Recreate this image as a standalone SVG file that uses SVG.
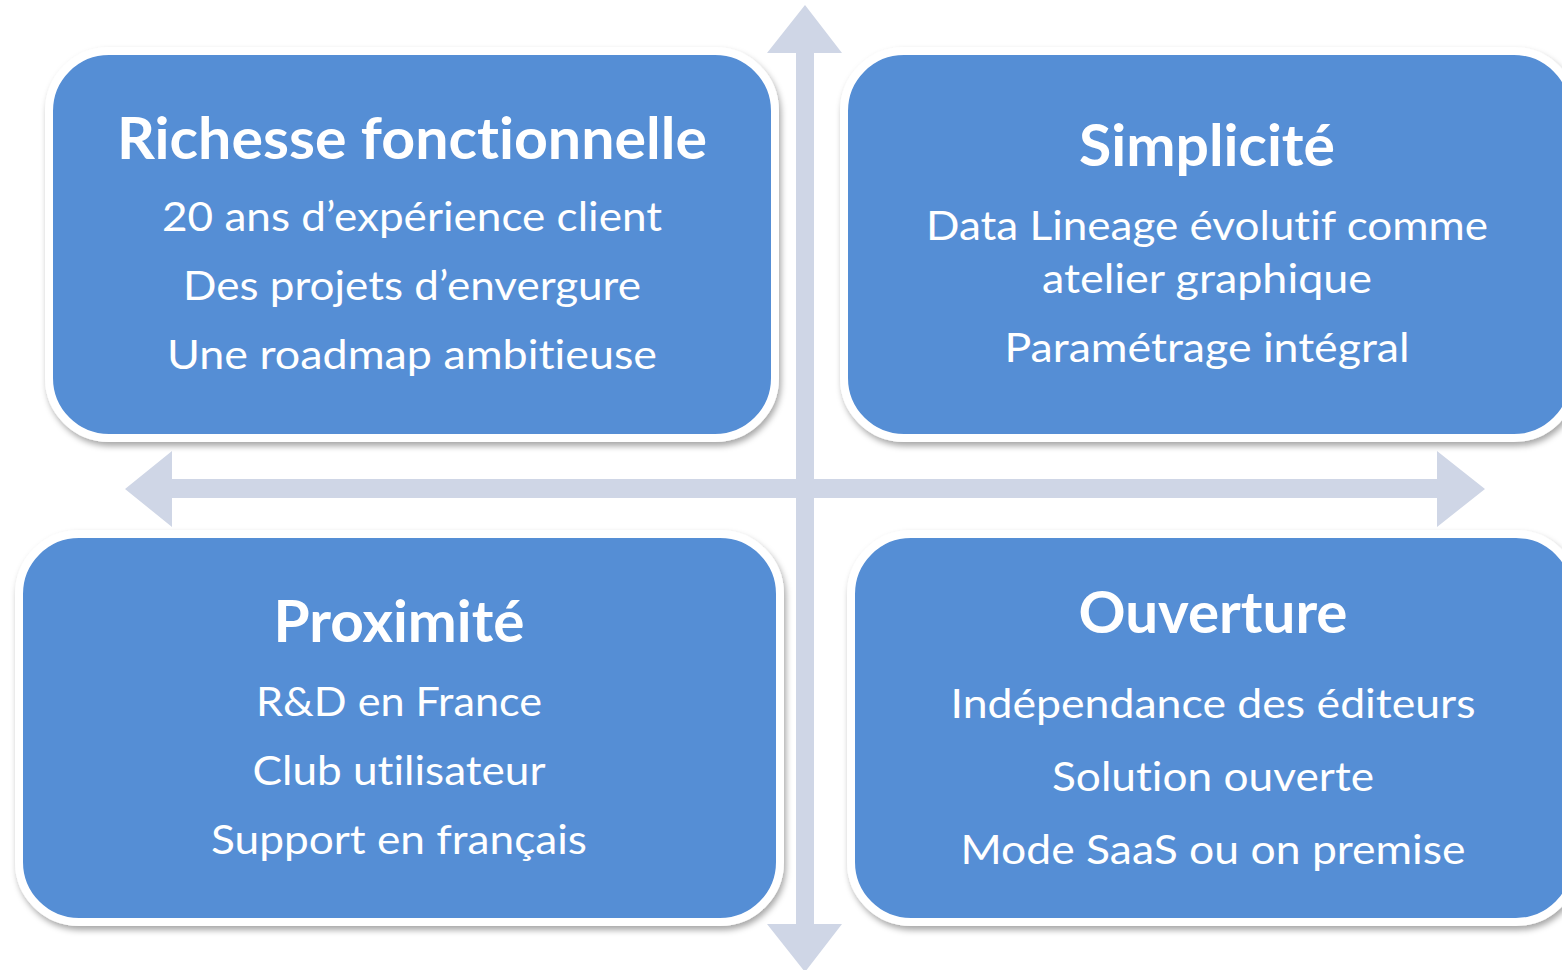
<svg xmlns="http://www.w3.org/2000/svg" width="1562" height="970" viewBox="0 0 1562 970">
<defs>
<filter id="sh" x="-10%" y="-10%" width="120%" height="125%">
<feDropShadow dx="2" dy="4" stdDeviation="3" flood-color="#000" flood-opacity="0.35"/>
</filter>
<style>
.box{fill:#558ED5;stroke:#FFFFFF;stroke-width:8;filter:url(#sh)}
.axis{fill:#CFD6E6}
.t{font-family:Lato,"Open Sans","Liberation Sans",sans-serif;font-weight:bold;font-size:58px;fill:#FFFFFF;text-anchor:middle;font-variant-ligatures:none}
.b{font-family:Lato,"Open Sans","Liberation Sans",sans-serif;font-size:41px;fill:#FFFFFF;text-anchor:middle;font-variant-ligatures:none}
</style>
</defs>
<rect width="1562" height="970" fill="#FFFFFF"/>
<g id="axes">
<polygon class="axis" points="805,5 842,53 814,53 814,924 842,924 805,972 767,924 796,924 796,53 767,53"/>
<polygon class="axis" points="125,489 172,451 172,479 1437,479 1437,451 1485,489 1437,527 1437,498 172,498 172,527"/>
</g>
<g id="richesse">
<rect class="box" x="49" y="51" width="726" height="387" rx="60"/>
<text class="t" x="412" y="159" textLength="590" lengthAdjust="spacingAndGlyphs">Richesse fonctionnelle</text>
<text class="b" x="412" y="231" textLength="500" lengthAdjust="spacingAndGlyphs">20 ans d’expérience client</text>
<text class="b" x="412" y="300" textLength="458" lengthAdjust="spacingAndGlyphs">Des projets d’envergure</text>
<text class="b" x="412" y="369" textLength="490" lengthAdjust="spacingAndGlyphs">Une roadmap ambitieuse</text>
</g>
<g id="simplicite">
<rect class="box" x="844" y="51" width="730" height="387" rx="60"/>
<text class="t" x="1207" y="166" textLength="256" lengthAdjust="spacingAndGlyphs">Simplicité</text>
<text class="b" x="1207" y="240" textLength="562" lengthAdjust="spacingAndGlyphs">Data Lineage évolutif comme</text>
<text class="b" x="1207" y="293" textLength="330" lengthAdjust="spacingAndGlyphs">atelier graphique</text>
<text class="b" x="1207" y="362" textLength="405" lengthAdjust="spacingAndGlyphs">Paramétrage intégral</text>
</g>
<g id="proximite">
<rect class="box" x="19" y="534" width="761" height="388" rx="60"/>
<text class="t" x="399" y="642" textLength="251" lengthAdjust="spacingAndGlyphs">Proximité</text>
<text class="b" x="399" y="716" textLength="286" lengthAdjust="spacingAndGlyphs">R&amp;D en France</text>
<text class="b" x="399" y="785" textLength="293" lengthAdjust="spacingAndGlyphs">Club utilisateur</text>
<text class="b" x="399" y="854" textLength="376" lengthAdjust="spacingAndGlyphs">Support en français</text>
</g>
<g id="ouverture">
<rect class="box" x="851" y="534" width="725" height="388" rx="60"/>
<text class="t" x="1213" y="633" textLength="269" lengthAdjust="spacingAndGlyphs">Ouverture</text>
<text class="b" x="1213" y="718" textLength="525" lengthAdjust="spacingAndGlyphs">Indépendance des éditeurs</text>
<text class="b" x="1213" y="791" textLength="322" lengthAdjust="spacingAndGlyphs">Solution ouverte</text>
<text class="b" x="1213" y="864" textLength="505" lengthAdjust="spacingAndGlyphs">Mode SaaS ou on premise</text>
</g>
</svg>
